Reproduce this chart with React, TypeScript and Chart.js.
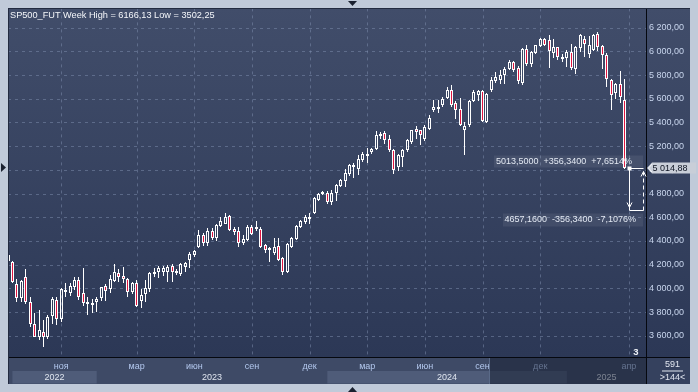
import React, { useEffect, useRef } from 'react';
import { Chart, registerables } from 'chart.js';

Chart.register(...registerables);

// Weekly candles, index 0 = week of 15 Aug 2022, one slot per weekly bar
const opens = [4280,4220,4040,3922,4092,3881,3700,3586,3630,3586,3766,3901,3745,3977,3963,4013,4070,3963,3865,3879,3884,3915,4019,3991,4064,4126,4103,4078,3966,4047,3893,3952,3994,4117,4134,4140,4140,4188,4129,4120,4182,4238,4280,4345,4449,4379,4486,4429,4530,4547,4609,4500,4483,4379,4407,4519,4505,4500,4365,4325,4300,4356,4252,4140,4345,4415,4514,4556,4589,4632,4744,4792,4808,4730,4808,4862,4904,4969,5039,5003,5087,5137,5152,5179,5286,5314,5260,5170,5025,5109,5166,5236,5342,5334,5264,5348,5503,5517,5545,5610,5677,5565,5517,5334,5376,5581,5635,5663,5405,5671,5750,5761,5803,5854,5910,5862,5733,6023,5896,5989,6045,6101,6093,5989,6037,5933,5947,5995,5854,6031,6101,5980,6014,6143,6042,5966,5756,5652,5728,5587];
const highs = [4325,4232,4075,4070,4165,3930,3790,3817,3735,3775,3929,3929,4000,4042,4047,4092,4098,4168,3923,3907,3929,4013,4033,4112,4204,4160,4182,4084,4056,4070,3991,4070,4134,4168,4188,4188,4196,4204,4160,4216,4224,4309,4325,4491,4470,4505,4505,4547,4600,4637,4618,4520,4519,4449,4533,4533,4567,4519,4376,4352,4421,4421,4266,4382,4430,4533,4575,4618,4632,4770,4808,4825,4825,4830,4884,4923,5003,5048,5060,5123,5152,5188,5188,5326,5320,5330,5290,5180,5130,5180,5260,5340,5370,5340,5380,5460,5590,5587,5615,5699,5713,5580,5610,5400,5587,5670,5671,5671,5650,5784,5826,5840,5868,5924,5920,5880,6030,6050,6000,6057,6115,6115,6140,6107,6040,5980,6009,6065,6042,6149,6126,6126,6149,6166.13,6050,5985,5770,5735,5834,5770];
const lows = [4218,4045,3885,3885,3870,3670,3585,3564,3502.25,3575,3700,3690,3720,3930,3935,3985,3901,3850,3775,3794,3803,3895,3895,3957,4056,4050,4042,3929,3952,3839,3831,3887,3971,4098,4089,4103,4056,4056,4109,4103,4140,4168,4265,4340,4360,4356,4412,4401,4520,4542,4483,4450,4345,4365,4401,4450,4485,4340,4300,4224,4280,4230,4112,4130,4337,4410,4505,4540,4547,4630,4738,4785,4710,4705,4738,4855,4856,4946,4935,4955,5067,5059,5137,5171,5264,5222,5150,4963,4990,5020,5150,5220,5260,5210,5240,5340,5490,5480,5530,5600,5530,5430,5370,5123,5365,5570,5580,5400,5395,5657,5733,5727,5727,5840,5830,5727,5720,5880,5870,5980,6040,6045,5860,5947,5924,5910,5868,5846,5812,5995,5952,5947,6003,6000,5850,5700,5509,5600,5562,5005];
const closes = [4229,4052,3920,4064,3881,3700,3592,3648,3592,3755,3907,3745,3994,3965,4022,4070,3929,3873,3873,3856,3910,4008,3980,4078,4140,4092,4078,3966,4047,3853,3943,4000,4131,4140,4168,4168,4182,4140,4148,4204,4210,4289,4317,4449,4379,4486,4429,4533,4565,4598,4491,4477,4379,4415,4519,4457,4500,4351,4322,4340,4351,4238,4140,4373,4421,4528,4570,4604,4598,4764,4800,4814,4730,4808,4870,4913,4977,5039,5020,5095,5137,5118,5179,5292,5300,5250,5170,4995,5123,5166,5250,5334,5320,5292,5362,5441,5531,5531,5601,5671,5545,5503,5376,5371,5581,5657,5663,5413,5643,5761,5784,5798,5854,5910,5840,5747,6023,5896,5995,6051,6101,6051,6000,6037,5952,5952,5995,5862,6037,6135,6065,6051,6135,6037,5966,5770,5635,5722,5615,5014.88];

const monthTickIdx = [12, 29, 42, 55, 68, 81, 94, 107, 120, 140];
const monthTickLabels = ['ноя', 'мар', 'июн', 'сен', 'дек', 'мар', 'июн', 'сен', 'дек', 'апр'];
const yearStartIdx = [1, 20, 72, 126];
const yearLabels = ['2022', '2023', '2024', '2025'];
const priceTicks = [3600, 3800, 4000, 4200, 4400, 4600, 4800, 5000, 5200, 5400, 5600, 5800, 6000, 6200];
const xRange = [0, 143.85];
const yRange = [3420.4, 6362.7];
const lastPrice = 5014.88;
const measureFrom = 5013.5;
const measureTo = 4657.16;
const measureIdx = [140, 143.2];
const dimFromIdx = 108.5;
const totalBars = '591';
const visibleBars = '>144<';
const markerText = '3';
const instrument = 'SP500_FUT';
const period = 'Week';

const FONT = '"Liberation Sans", Arial, sans-serif';
const RED = '#df1540';

const fmtPlain = (v: number, d: number) => v.toFixed(d).replace('.', ',');
const fmtSpaced = (v: number) => {
  const [a, b] = v.toFixed(2).split('.');
  return a.replace(/\B(?=(\d{3})+(?!\d))/g, ' ') + ',' + b;
};

const panelPlugin = {
  id: 'panel',
  beforeDraw(chart: any) {
    const { ctx, chartArea: a, width, height } = chart;
    const xs = chart.scales.x;
    ctx.save();
    ctx.fillStyle = '#c0cad9';
    ctx.fillRect(0, 0, width, height);
    const L = 8, T = 8, R = 690, B = 384;
    const g = ctx.createLinearGradient(0, T, 0, a.bottom);
    g.addColorStop(0, '#414d6a');
    g.addColorStop(1, '#2c3856');
    ctx.fillStyle = g;
    ctx.fillRect(L, T, R - L, a.bottom - T);
    ctx.fillStyle = '#3e4a66';
    ctx.fillRect(L, a.bottom, a.right - L, B - a.bottom);
    ctx.fillStyle = '#35415e';
    ctx.fillRect(a.right, a.bottom, R - a.right, B - a.bottom);
    for (let k = 0; k < yearLabels.length; k++) {
      if (k % 2 !== 0) continue;
      const s = Math.max(xs.getPixelForValue(yearStartIdx[k]), a.left);
      const e = k + 1 < yearStartIdx.length ? xs.getPixelForValue(yearStartIdx[k + 1]) : a.right;
      ctx.fillStyle = '#4f5c79';
      ctx.fillRect(s, 371, e - s, 12.5);
    }
    ctx.restore();
  },
  beforeDatasetsDraw(chart: any) {
    const { ctx, chartArea: a } = chart;
    const xs = chart.scales.x, ys = chart.scales.y;
    ctx.save();
    ctx.strokeStyle = 'rgba(128,143,175,0.5)';
    ctx.lineWidth = 1;
    ctx.setLineDash([3, 4]);
    for (const v of priceTicks) {
      const y = Math.round(ys.getPixelForValue(v)) + 0.5;
      ctx.beginPath(); ctx.moveTo(a.left, y); ctx.lineTo(a.right, y); ctx.stroke();
    }
    for (const v of monthTickIdx) {
      const x = Math.round(xs.getPixelForValue(v)) + 0.5;
      ctx.beginPath(); ctx.moveTo(x, a.top); ctx.lineTo(x, a.bottom); ctx.stroke();
    }
    ctx.restore();
    // snap the bar elements (placed by the scales) onto the pixel grid for crisp candles
    chart.data.datasets.forEach((ds: any, di: number) => {
      const meta = chart.getDatasetMeta(di);
      const w = ds.label === 'body' ? 3 : 1;
      meta.data.forEach((el: any) => {
        const p = Math.round(el.x - 0.5);
        el.x = p + 0.5;
        el.width = w;
        let top = Math.round(Math.min(el.y, el.base));
        let bot = Math.round(Math.max(el.y, el.base));
        if (ds.label === 'body' && bot - top < 2) bot = top + 2;
        el.y = top;
        el.base = bot;
        el.height = bot - top;
      });
    });
  },
  afterDraw(chart: any) {
    const { ctx, chartArea: a } = chart;
    const xs = chart.scales.x, ys = chart.scales.y;
    ctx.save();
    ctx.font = `9px ${FONT}`;
    ctx.textBaseline = 'middle';
    ctx.textAlign = 'center';
    ctx.fillStyle = '#dfe5ef';
    for (let k = 0; k < yearLabels.length; k++) {
      const s = Math.max(xs.getPixelForValue(yearStartIdx[k]), a.left);
      const e = k + 1 < yearStartIdx.length ? xs.getPixelForValue(yearStartIdx[k + 1]) : a.right;
      ctx.fillText(yearLabels[k], (s + e) / 2, 377.5);
    }
    const dx = xs.getPixelForValue(dimFromIdx);
    ctx.fillStyle = 'rgba(20,27,46,0.5)';
    ctx.fillRect(dx, a.bottom + 1, a.right - dx, 384 - a.bottom - 1);
    ctx.fillStyle = '#5a6a88';
    ctx.fillRect(Math.round(dx), a.bottom + 1, 1, 384 - a.bottom - 1);

    ctx.fillStyle = '#05080f';
    ctx.fillRect(Math.round(a.right), 8, 1, 376);
    ctx.fillRect(8, Math.round(a.bottom), 682, 1);
    ctx.fillStyle = '#222b40';
    ctx.fillRect(8, 8, 682, 1);
    ctx.fillRect(8, 8, 1, 376);

    const hi = Math.max(...highs), lo = Math.min(...lows);
    ctx.textAlign = 'left';
    ctx.fillStyle = '#f4f6fa';
    ctx.font = `9.2px ${FONT}`;
    ctx.fillText(`${instrument} ${period} High = ${fmtPlain(hi, 2)} Low = ${fmtPlain(lo, 2)}`, 10, 15);
    ctx.font = `9px ${FONT}`;

    const x0 = Math.round(xs.getPixelForValue(measureIdx[0])) + 0.5;
    const x1 = Math.round(xs.getPixelForValue(measureIdx[1])) + 0.5;
    const y0 = Math.round(ys.getPixelForValue(measureFrom)) + 0.5;
    const y1 = Math.round(ys.getPixelForValue(measureTo)) + 0.5;
    const diff = measureFrom - measureTo;
    const topTxt = `${fmtPlain(measureFrom, 4)}  +${fmtPlain(diff, 4)}  +${fmtPlain(diff / measureTo * 100, 4)}%`;
    const botTxt = `${fmtPlain(measureTo, 4)}  -${fmtPlain(diff, 4)}  -${fmtPlain(diff / measureFrom * 100, 4)}%`;
    ctx.fillStyle = 'rgba(255,255,255,0.07)';
    ctx.fillRect(494, y0 - 13, 149, 12);
    ctx.fillRect(503, y1 + 3, 140, 13);
    ctx.fillStyle = '#e3e9f3';
    ctx.textAlign = 'right';
    ctx.fillText(topTxt, 632, y0 - 6.5);
    ctx.fillText(botTxt, 636, y1 + 9.5);
    ctx.strokeStyle = '#ffffff';
    ctx.lineWidth = 1;
    ctx.beginPath();
    ctx.moveTo(x0, y0); ctx.lineTo(x1, y0);
    ctx.moveTo(x0, y0); ctx.lineTo(x0, y1);
    ctx.moveTo(x0, y1); ctx.lineTo(x1, y1);
    ctx.moveTo(x0 - 2.5, y1 - 8); ctx.lineTo(x0, y1 - 3); ctx.lineTo(x0 + 2.5, y1 - 8);
    ctx.moveTo(x1 - 2.5, y0 + 8); ctx.lineTo(x1, y0 + 3); ctx.lineTo(x1 + 2.5, y0 + 8);
    ctx.stroke();
    ctx.setLineDash([4, 3]);
    ctx.beginPath(); ctx.moveTo(x1, y0 + 3); ctx.lineTo(x1, y1); ctx.stroke();
    ctx.setLineDash([]);
    ctx.fillStyle = '#ffffff';
    ctx.fillRect(x0 - 2, y0 - 2, 4, 4);

    const py = ys.getPixelForValue(lastPrice);
    ctx.fillStyle = '#c9ced8';
    ctx.beginPath();
    ctx.moveTo(647, py); ctx.lineTo(652, py - 5.5); ctx.lineTo(696, py - 5.5);
    ctx.lineTo(696, py + 5.5); ctx.lineTo(652, py + 5.5); ctx.closePath(); ctx.fill();
    ctx.strokeStyle = '#f4f6fa';
    ctx.beginPath(); ctx.moveTo(652, py - 4); ctx.lineTo(648.5, py); ctx.lineTo(652, py + 4); ctx.stroke();
    ctx.fillStyle = '#0c1220';
    ctx.textAlign = 'left';
    ctx.fillText(fmtSpaced(lastPrice), 652.5, py + 0.5);

    ctx.fillStyle = '#f0f3f8';
    ctx.textAlign = 'center';
    ctx.font = `bold 9.5px ${FONT}`;
    ctx.fillText(markerText, 636, 352.5);
    ctx.font = `9px ${FONT}`;
    ctx.fillStyle = '#e2e7f0';
    ctx.fillText(totalBars, 672.5, 364.5);
    ctx.fillRect(662, 370.5, 21, 1);
    ctx.fillText(visibleBars, 672.5, 377.5);

    ctx.fillStyle = '#1a2130';
    ctx.beginPath(); ctx.moveTo(348, 1); ctx.lineTo(357, 1); ctx.lineTo(352.5, 6); ctx.closePath(); ctx.fill();
    ctx.beginPath(); ctx.moveTo(348, 392); ctx.lineTo(357, 392); ctx.lineTo(352.5, 387); ctx.closePath(); ctx.fill();
    ctx.beginPath(); ctx.moveTo(1, 163); ctx.lineTo(1, 172); ctx.lineTo(6, 167.5); ctx.closePath(); ctx.fill();
    ctx.restore();
  },
};

export default function App() {
  const ref = useRef<HTMLCanvasElement>(null);
  useEffect(() => {
    const bodies = opens.map((o, i) => ({ x: i, y: [o, closes[i]] }));
    const upper = opens.map((o, i) => ({ x: i, y: [Math.max(o, closes[i]), highs[i]] }));
    const lower = opens.map((o, i) => ({ x: i, y: [lows[i], Math.min(o, closes[i])] }));
    const chart = new Chart(ref.current as HTMLCanvasElement, {
      type: 'bar',
      data: {
        datasets: [
          {
            label: 'body',
            data: bodies as any,
            backgroundColor: (c: any) => (closes[c.dataIndex] < opens[c.dataIndex] ? RED : 'rgba(0,0,0,0)'),
            borderColor: '#ffffff',
            borderWidth: 1,
            borderSkipped: false,
            barThickness: 3,
            minBarLength: 2,
            grouped: false,
            inflateAmount: 0,
          } as any,
          {
            label: 'upper',
            data: upper as any,
            backgroundColor: '#ffffff',
            borderWidth: 0,
            barThickness: 1,
            grouped: false,
            inflateAmount: 0,
          } as any,
          {
            label: 'lower',
            data: lower as any,
            backgroundColor: '#ffffff',
            borderWidth: 0,
            barThickness: 1,
            grouped: false,
            inflateAmount: 0,
          } as any,
        ],
      },
      options: {
        animation: false,
        responsive: false,
        maintainAspectRatio: false,
        devicePixelRatio: 1,
        events: [],
        layout: { padding: { left: 8, top: 8, right: 8, bottom: 8 } },
        plugins: { legend: { display: false }, tooltip: { enabled: false }, title: { display: false } },
        scales: {
          x: {
            type: 'linear',
            min: xRange[0],
            max: xRange[1],
            offset: false,
            grid: { display: false, offset: false, drawTicks: false },
            border: { display: false },
            afterBuildTicks: (s: any) => { s.ticks = monthTickIdx.map((v) => ({ value: v })); },
            afterFit: (s: any) => { s.height = 27; },
            ticks: {
              autoSkip: false,
              maxRotation: 0,
              padding: 4,
              color: '#b3c8ee',
              font: { size: 9, family: FONT },
              callback: (_v: any, i: number) => monthTickLabels[i],
            },
          } as any,
          y: {
            type: 'linear',
            position: 'right',
            min: yRange[0],
            max: yRange[1],
            grid: { display: false, drawTicks: false },
            border: { display: false },
            afterBuildTicks: (s: any) => { s.ticks = priceTicks.map((v) => ({ value: v })); },
            afterFit: (s: any) => { s.width = 44; },
            ticks: {
              crossAlign: 'near',
              padding: 3,
              color: '#c9d6ee',
              font: { size: 9, family: FONT },
              callback: (v: any) => fmtSpaced(Number(v)),
            },
          } as any,
        },
      } as any,
      plugins: [panelPlugin],
    });
    return () => chart.destroy();
  }, []);
  return (
    <div style={{ position: 'fixed', left: 0, top: 0, width: 698, height: 392 }}>
      <canvas ref={ref} width={698} height={392} style={{ display: 'block', width: 698, height: 392 }} />
    </div>
  );
}
